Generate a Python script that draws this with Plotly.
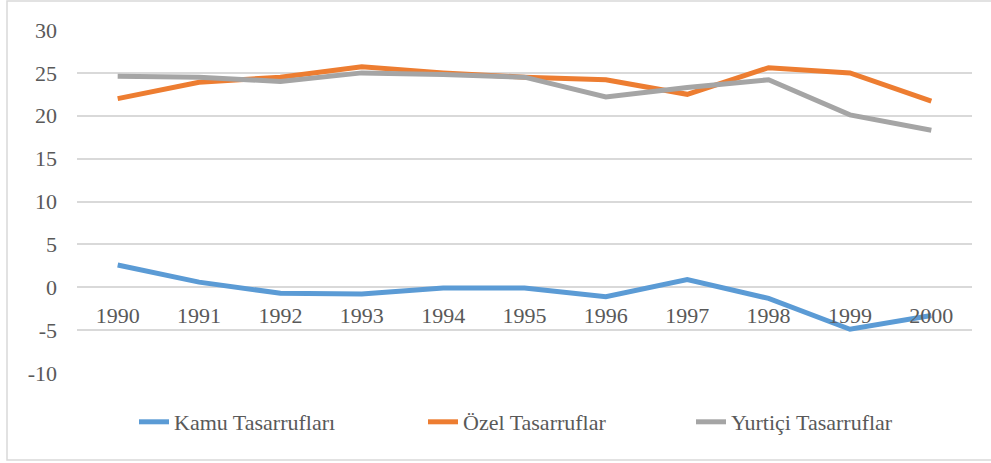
import plotly.graph_objects as go

years = ["1990", "1991", "1992", "1993", "1994", "1995", "1996", "1997", "1998", "1999", "2000"]
kamu = [2.6, 0.6, -0.7, -0.8, -0.1, -0.1, -1.1, 0.9, -1.3, -4.9, -3.3]
ozel = [22.0, 23.9, 24.5, 25.7, 25.0, 24.5, 24.2, 22.5, 25.6, 25.0, 21.7]
yurtici = [24.6, 24.5, 24.0, 25.0, 24.8, 24.5, 22.2, 23.3, 24.2, 20.1, 18.3]
ytick_vals = [-10, -5, 0, 5, 10, 15, 20, 25, 30]
ytick_text = ["-10", "-5", "0", "5", "10", "15", "20", "25", "30"]

names = ["Kamu Tasarrufları", "Özel Tasarruflar", "Yurtiçi Tasarruflar"]
colors = ["#5B9BD5", "#ED7D31", "#A5A5A5"]
legends = ["legend", "legend2", "legend3"]

font = dict(family="Liberation Serif, Times New Roman, serif", size=22, color="#595959")

fig = go.Figure()
for name, vals, c, lg in zip(names, [kamu, ozel, yurtici], colors, legends):
    fig.add_trace(go.Scatter(x=years, y=vals, name=name, mode="lines",
                             line=dict(color=c, width=5), legend=lg))

L, R, T, B = 77, 19, 30, 90
W, H = 991, 463
pw, ph = W - L - R, H - T - B
ymin, ymax = -10, 30
zero_pos = (0 - ymin) / (ymax - ymin)

leg_y = (373 - 422) / ph
text_starts = [177, 466, 734]


def leg(px):
    return dict(orientation="h", x=(px - 43 - L) / pw, xanchor="left", y=leg_y, yanchor="middle",
                font=font, bgcolor="rgba(0,0,0,0)")


fig.update_layout(
    width=W, height=H,
    margin=dict(l=L, r=R, t=T, b=B),
    paper_bgcolor="white", plot_bgcolor="white",
    font=font,
    showlegend=True,
    legend=leg(text_starts[0]),
    legend2=leg(text_starts[1]),
    legend3=leg(text_starts[2]),
    xaxis=dict(type="category", anchor="free", position=zero_pos,
               showgrid=False, showline=False, zeroline=False,
               ticks="outside", ticklen=8, tickcolor="rgba(0,0,0,0)",
               tickfont=font, range=[-0.5, 10.5]),
    yaxis=dict(range=[ymin, ymax], tickvals=ytick_vals, ticktext=ytick_text,
               showgrid=True, gridcolor="#D9D9D9",
               gridwidth=1.5, zeroline=False, showline=False, ticks="",
               tickfont=font, ticklabelstandoff=19),
    shapes=[dict(type="rect", xref="paper", yref="paper",
                 x0=(7 - L) / pw, x1=(998 - L) / pw,
                 y0=(373 - 460) / ph, y1=(373 - 1) / ph,
                 line=dict(color="#D9D9D9", width=1.5), layer="below")],
)

fig.write_html("out.html", config={"displayModeBar": False},
               post_script="document.body.style.margin='0';document.body.style.overflow='hidden';")
